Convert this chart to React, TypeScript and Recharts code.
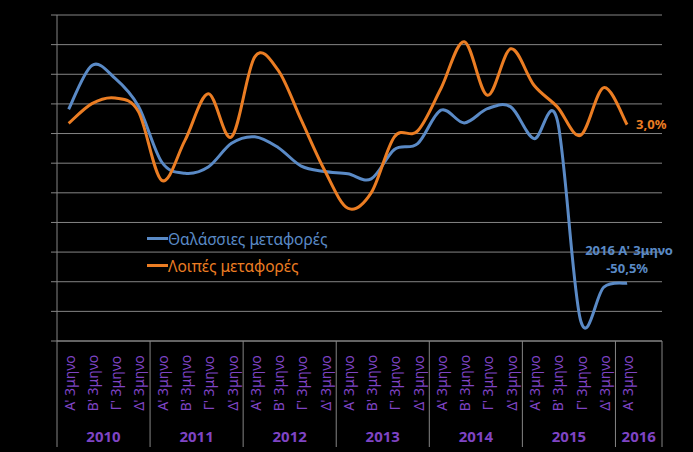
import React from "react"
import { CartesianGrid, LabelList, Legend, Line, LineChart, XAxis, YAxis } from "recharts"

// quarter categories (last slot is an empty category, as in the source chart)
const quarters = [
  "Α' 3μηνο", "Β' 3μηνο", "Γ' 3μηνο", "Δ' 3μηνο",
  "Α' 3μηνο", "Β' 3μηνο", "Γ' 3μηνο", "Δ' 3μηνο",
  "Α' 3μηνο", "Β' 3μηνο", "Γ' 3μηνο", "Δ' 3μηνο",
  "Α' 3μηνο", "Β' 3μηνο", "Γ' 3μηνο", "Δ' 3μηνο",
  "Α' 3μηνο", "Β' 3μηνο", "Γ' 3μηνο", "Δ' 3μηνο",
  "Α' 3μηνο", "Β' 3μηνο", "Γ' 3μηνο", "Δ' 3μηνο",
  "Α' 3μηνο", "",
]
const years = [
  "2010", "2010", "2010", "2010",
  "2011", "2011", "2011", "2011",
  "2012", "2012", "2012", "2012",
  "2013", "2013", "2013", "2013",
  "2014", "2014", "2014", "2014",
  "2015", "2015", "2015", "2015",
  "2016", "2016",
]
// % change
const thalassies = [
  8.2, 23, 18.6, 9.2, -9.6, -13.4, -11.3, -3.3, -1.1, -4.7, -11, -12.8,
  -13.6, -15.3, -5.4, -3.4, 7.9, 3.6, 8.4, 9, -1.7, 4.5, -63, -51.8, -50.5, null,
]
const loipes = [
  3.4, 10.1, 12, 7.4, -15.8, -2.3, 13.4, -1.1, 25.9, 21.4, 4.5, -12.4,
  -25.2, -20, -1.1, 0.9, 15.2, 31, 12.9, 28.6, 16.3, 9, -0.6, 15.5, 3.0, null,
]
const yTicks = [-70, -60, -50, -40, -30, -20, -10, 0, 10, 20, 30, 40]

const BLUE = "#5A8AC6"
const ORANGE = "#EB7D23"
const PURPLE = "#7F44C4"
const GRID = "#858585"

const data = quarters.map((q, i) => ({
  period: `${years[i]}-${i}`,
  thal: thalassies[i],
  loip: loipes[i],
}))

const fmt = (v: number) => v.toFixed(1).replace(".", ",") + "%"

// Excel-like smoothed line (catmull-rom style bezier)
const smoothCurve = (context: any) => {
  let pts: number[][] = []
  return {
    areaStart() {},
    areaEnd() {},
    lineStart() {
      pts = []
    },
    point(x: number, y: number) {
      pts.push([+x, +y])
    },
    lineEnd() {
      if (!pts.length) return
      context.moveTo(pts[0][0], pts[0][1])
      for (let i = 0; i < pts.length - 1; i++) {
        const p0 = pts[i - 1] || pts[i]
        const p1 = pts[i]
        const p2 = pts[i + 1]
        const p3 = pts[i + 2] || p2
        context.bezierCurveTo(
          p1[0] + (p2[0] - p0[0]) / 6,
          p1[1] + (p2[1] - p0[1]) / 6,
          p2[0] - (p3[0] - p1[0]) / 6,
          p2[1] - (p3[1] - p1[1]) / 6,
          p2[0],
          p2[1]
        )
      }
    },
  }
}

const QuarterTick = (props: any) => {
  const { x, y, payload } = props
  const i = props.index ?? payload.index
  const half = payload.offset || 11.6
  const isFirst = i === 0 || years[i] !== years[i - 1]
  const count = years.filter((yr) => yr === years[i]).length
  return (
    <g>
      {quarters[i] && (
        <text
          transform={`translate(${x + 6},${y + 42}) rotate(-90)`}
          textAnchor="middle"
          fill={PURPLE}
          fontSize={14}
        >
          {quarters[i]}
        </text>
      )}
      {isFirst && <line x1={x - half} x2={x - half} y1={y} y2={y + 106} stroke={GRID} />}
      {isFirst && (
        <text x={x - half + count * half} y={y + 101} textAnchor="middle" fill={PURPLE} fontSize={15} fontWeight="bold">
          {years[i]}
        </text>
      )}
      {i === quarters.length - 1 && <line x1={x + half} x2={x + half} y1={y} y2={y + 106} stroke={GRID} />}
    </g>
  )
}

const NoTick = () => <g />

const LegendBox = (props: any) => (
  <div>
    {(props.payload || []).map((entry: any) => (
      <div key={entry.value} style={{ display: "flex", alignItems: "center", height: 27, color: entry.color, fontSize: 15.5 }}>
        <span style={{ display: "inline-block", width: 21, height: 3, background: entry.color }} />
        <span>{entry.value}</span>
      </div>
    ))}
  </div>
)

const lastIndex = loipes.filter((v) => v !== null).length - 1

const OrangeLabel = (props: any) => {
  const { x, y, index, value } = props
  if (index !== lastIndex) return null
  return (
    <text x={x + 9} y={y + 1} dominantBaseline="middle" fill={ORANGE} fontSize={13} fontWeight="bold">
      {fmt(value)}
    </text>
  )
}

const BlueLabel = (props: any) => {
  const { x, y, index, value } = props
  if (index !== lastIndex) return null
  return (
    <text textAnchor="middle" fill={BLUE} fontSize={13} fontWeight="bold">
      <tspan x={x + 2} y={y - 28}>{`${years[index]} ${quarters[index]}`}</tspan>
      <tspan x={x} y={y - 10}>{fmt(value)}</tspan>
    </text>
  )
}

export default function App() {
  return (
    <div style={{ position: "absolute", left: 0, top: 0, width: 693, height: 452, background: "#000", fontFamily: "'Noto Sans', sans-serif" }}>
      <LineChart width={693} height={452} data={data} margin={{ top: 15, right: 31, bottom: 0, left: 0 }}>
        <CartesianGrid vertical={false} stroke={GRID} />
        <XAxis
          dataKey="period"
          scale="band"
          height={111}
          interval={0}
          tickLine={false}
          tickSize={0}
          tickMargin={0}
          axisLine={{ stroke: GRID }}
          tick={<QuarterTick />}
        />
        <YAxis
          width={57}
          domain={[-70, 40]}
          ticks={yTicks}
          interval={0}
          tick={<NoTick />}
          tickSize={6}
          tickLine={{ stroke: GRID }}
          axisLine={{ stroke: GRID }}
        />
        <Legend
          layout="horizontal"
          verticalAlign="middle"
          align="center"
          wrapperStyle={{ left: 147, top: 225, width: 260 }}
          content={<LegendBox />}
        />
        <Line
          name="Θαλάσσιες μεταφορές"
          dataKey="thal"
          type={smoothCurve as any}
          stroke={BLUE}
          strokeWidth={3}
          dot={false}
          isAnimationActive={false}
        >
          <LabelList dataKey="thal" content={<BlueLabel />} />
        </Line>
        <Line
          name="Λοιπές μεταφορές"
          dataKey="loip"
          type={smoothCurve as any}
          stroke={ORANGE}
          strokeWidth={3}
          dot={false}
          isAnimationActive={false}
        >
          <LabelList dataKey="loip" content={<OrangeLabel />} />
        </Line>
      </LineChart>
    </div>
  )
}
